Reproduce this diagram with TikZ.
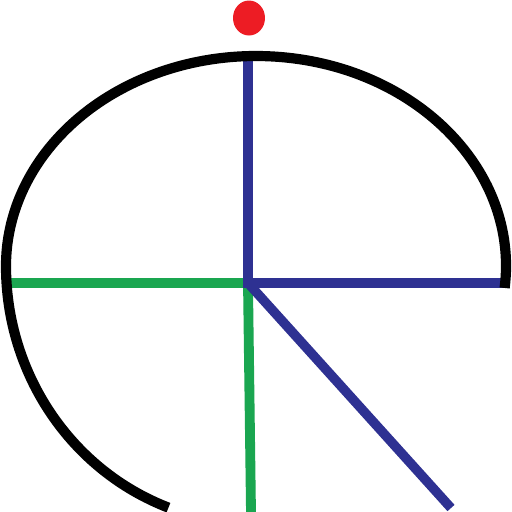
\documentclass[tikz,border=0pt]{standalone}
\usepackage{xcolor}
\usepackage{tikz}
\usetikzlibrary{shapes.geometric, calc}

\definecolor{armblue}{RGB}{46,49,146}
\definecolor{armgreen}{RGB}{26,166,80}
\definecolor{dotred}{RGB}{237,28,36}

\begin{document}
\begin{tikzpicture}[x=0.02cm, y=-0.02cm,
	bluearm/.style={draw=armblue, line width=5.4pt},
	greenarm/.style={draw=armgreen, line width=5.6pt},
	outline/.style={draw=black, line width=5.8pt},
	reddot/.style={ellipse, fill=dotred, minimum width=0.64cm, minimum height=0.70cm, inner sep=0pt}]
	\useasboundingbox (0,0) rectangle (512,512);
	% Points of the arms:
	\coordinate (O) at (248,283);
	\coordinate (top) at (248,56);
	\coordinate (right) at (505,283);
	\coordinate (left) at (7,283);
	\coordinate (bottom) at (251,512);
	\coordinate (diag) at (451,508);
	\coordinate (rim) at ($(256,266)+(6:250 and 210)$);
	% Arms:
	\draw[greenarm] (left) -- (O);
	\draw[greenarm] (O) -- (bottom);
	\draw[bluearm] (top) -- (O) -- (right);
	\draw[bluearm] (O) -- (diag);
	% Outline and dot:
	\draw[outline] (rim) arc[start angle=6, end angle=-180, x radius=250, y radius=210]
		arc[start angle=180, end angle=110.5, x radius=250, y radius=258];
	\node[reddot] (dot) at (249,18) {};
\end{tikzpicture}
\end{document}
